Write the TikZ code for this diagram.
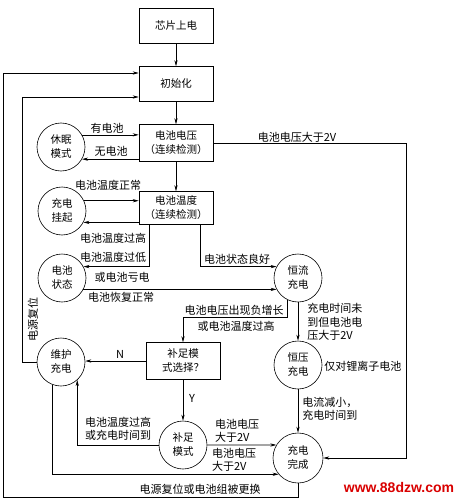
\documentclass[tikz,border=0pt]{standalone}
\usepackage{fontspec}
\newfontfamily\cjk{Noto Sans CJK SC}
\setsansfont{Liberation Sans}
\usetikzlibrary{arrows.meta}
\tikzset{
  box/.style={draw, minimum width=74pt, minimum height=35pt, align=center, inner sep=1pt},
  state/.style={draw, circle, minimum size=48pt, align=center, inner sep=0pt},
  arr/.style={-{Stealth[length=6pt,width=3.2pt]}},
  lbl/.style={inner sep=0pt, align=left, font=\cjk\fontsize{11}{13.5}\selectfont},
}
\begin{document}
\begin{tikzpicture}[x=1pt,y=-1pt,line width=0.6pt,font=\cjk\fontsize{10.5}{14}\selectfont]
\useasboundingbox (0,0) rectangle (460,500);
% main column
\node[box] (pwr) at (176,26) {芯片上电};
\node[box] (init) at (176,84) {初始化};
\node[box,minimum height=37pt] (vdet) at (176,143) {电池电压\\（连续检测）};
\node[box,minimum height=33pt] (tdet) at (176,208) {电池温度\\（连续检测）};
\node[box,minimum height=37pt] (sel) at (183,361) {补足模\\式选择？};
% states
\node[state] (sleep) at (61,147) {休眠\\模式};
\node[state] (hold) at (62,211) {充电\\挂起};
\node[state] (bstat) at (62,278) {电池\\状态};
\node[state] (cc) at (298,278) {恒流\\充电};
\node[state] (maint) at (61,362) {维护\\充电};
\node[state] (cv) at (298,365) {恒压\\充电};
\node[state] (topoff) at (183,445) {补足\\模式};
\node[state,minimum size=50pt] (done) at (298,458) {充电\\完成};

\draw[arr] (pwr) -- (init);
\draw[arr] (init) -- (vdet);
\draw[arr] (vdet) -- (tdet);
\draw[arr] (sleep.30) -- (sleep.30 -| vdet.west);
\draw[arr] (sleep.-30 -| vdet.west) -- (sleep.-30);
\node[lbl] at (107,128) {有电池};
\node[lbl] at (111,151) {无电池};
\draw[arr] (vdet.east) -- (406,143) |- (done.east);
\node[lbl] at (297,137) {电池电压大于2V};

\draw[arr] (hold.25) -- (hold.25 -| tdet.west);
\draw[arr] (hold.-28 -| tdet.west) -- (hold.-28);
\node[lbl] at (108,185) {电池温度正常};
\draw[arr] ([xshift=-27pt]tdet.south) |- (bstat.28);
\node[lbl] at (113,238) {电池温度过高};
\node[lbl] at (113,257) {电池温度过低};
\node[lbl] at (122,277) {或电池亏电};
\draw[arr] ([xshift=24pt]tdet.south) |- (cc.152);
\node[lbl] at (237,259) {电池状态良好};
\draw[arr] (bstat.-28) -- (bstat.-28 -| cc.208);
\node[lbl] at (121,297) {电池恢复正常};

\draw[arr] (cc.245) |- ([yshift=25pt]sel.north) -- (sel.north);
\node[lbl] at (234,310) {电池电压出现负增长};
\node[lbl] at (236,326) {或电池温度过高};
\draw[arr] (cc) -- (cv);
\node[lbl,anchor=west] at (307,322) {充电时间未\\到但电池电\\压大于2V};
\node[lbl,anchor=west] at (324,366) {仅对锂离子电池};
\draw[arr] (cv) -- (done);
\node[lbl,anchor=west] at (302,409) {电流减小，\\充电时间到};

\draw[arr] (sel.west) -- (sel.west -| maint.east);
\node[lbl] at (120,354) {N};
\draw[arr] (sel) -- (topoff);
\node[lbl] at (192,398) {Y};
\draw[arr] (topoff.west) -| (maint.-48);
\node[lbl] at (118,429) {电池温度过高\\或充电时间到};
\draw[arr] (topoff.east) -- (done.149);
\node[lbl] at (237,431) {电池电压\\大于2V};
\draw[arr] (maint.-112) |- (done.220);
\node[lbl] at (234,460) {电池电压\\大于2V};

% reset loops
\draw[arr] (maint.west) -- ++(-14,0) |- ([yshift=-13pt]init.west);
\node[lbl,rotate=90] at (33,319) {电源复位};
\draw[arr] (done.south) |- (3,497) |- ([yshift=11pt]init.west);
\node[lbl] at (200,489) {电源复位或电池组被更换};

\node[inner sep=0pt,text=red!85!black,font=\sffamily\bfseries\fontsize{14}{14}\selectfont] (mark) at (399,487) {www.88dzw.com};
\end{tikzpicture}
\end{document}
